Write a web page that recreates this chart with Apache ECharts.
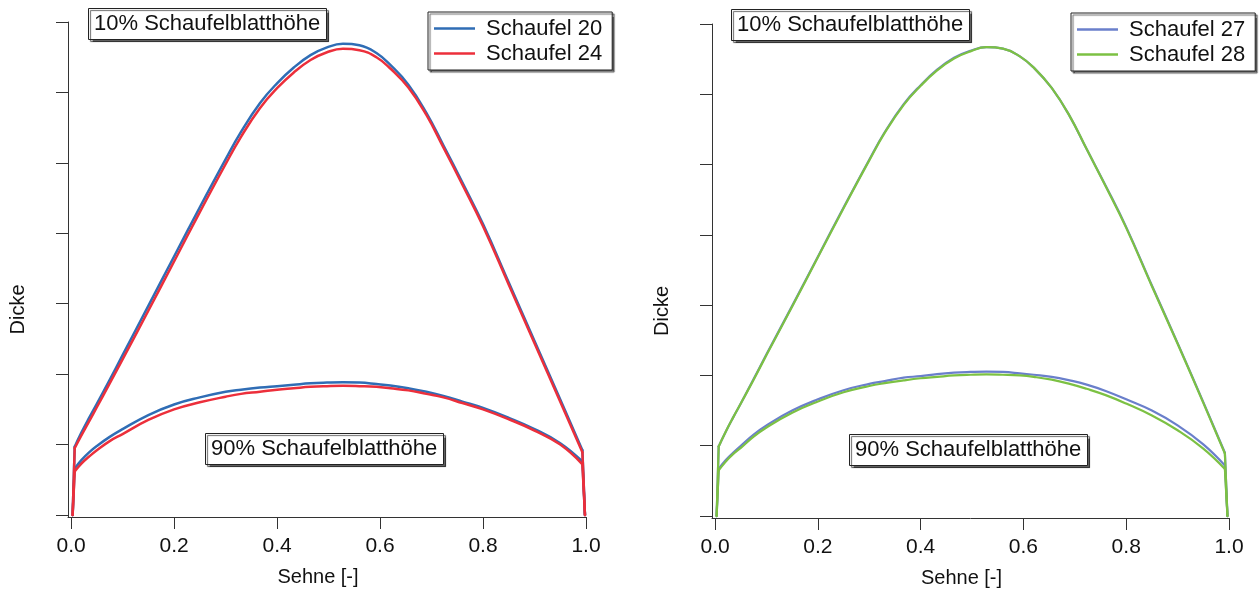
<!DOCTYPE html>
<html>
<head>
<meta charset="utf-8">
<title>Dickenverteilung</title>
<script src="https://cdn.jsdelivr.net/npm/echarts@6/dist/echarts.min.js"></script>
<style>
  html, body { margin: 0; padding: 0; background: #fff; }
  #chart { width: 1260px; height: 594px; }
</style>
</head>
<body>
<div id="chart"></div>
<script>
// Chord stations (normalised chord length) for the two panels
const leftChord  = [0.003, 0.007, 0.02, 0.035, 0.05, 0.075, 0.10, 0.15, 0.20, 0.25, 0.30, 0.33, 0.367, 0.40, 0.432, 0.465, 0.497, 0.528, 0.56, 0.593, 0.62, 0.655, 0.69, 0.723, 0.76, 0.80, 0.85, 0.90, 0.95, 0.993, 0.998];
const rightChord = [0.003, 0.007, 0.02, 0.035, 0.05, 0.075, 0.10, 0.15, 0.20, 0.25, 0.30, 0.33, 0.367, 0.40, 0.432, 0.465, 0.497, 0.528, 0.56, 0.593, 0.62, 0.655, 0.69, 0.723, 0.76, 0.80, 0.85, 0.90, 0.95, 0.992, 0.997];

// Thickness at 10 % blade height
const s20_10 = [0, 0.97, 1.17, 1.38, 1.58, 1.92, 2.27, 2.97, 3.67, 4.37, 5.05, 5.44, 5.85, 6.13, 6.35, 6.53, 6.64, 6.69, 6.67, 6.56, 6.39, 6.11, 5.71, 5.25, 4.72, 4.13, 3.30, 2.47, 1.64, 0.92, 0];
const s24_10 = [0, 0.95, 1.13, 1.33, 1.53, 1.87, 2.21, 2.90, 3.60, 4.30, 4.98, 5.37, 5.78, 6.06, 6.28, 6.46, 6.57, 6.62, 6.60, 6.50, 6.34, 6.07, 5.68, 5.22, 4.69, 4.10, 3.27, 2.44, 1.61, 0.89, 0];
const s27_10 = [0, 0.99, 1.19, 1.40, 1.60, 1.95, 2.30, 2.99, 3.69, 4.39, 5.07, 5.46, 5.86, 6.13, 6.35, 6.52, 6.62, 6.67, 6.65, 6.54, 6.38, 6.09, 5.69, 5.22, 4.70, 4.11, 3.28, 2.46, 1.62, 0.90, 0];
const s28_10 = [0, 0.99, 1.19, 1.40, 1.60, 1.94, 2.29, 2.98, 3.68, 4.38, 5.06, 5.45, 5.85, 6.12, 6.34, 6.51, 6.61, 6.67, 6.65, 6.54, 6.38, 6.09, 5.69, 5.22, 4.69, 4.10, 3.27, 2.45, 1.61, 0.89, 0];

// Thickness at 90 % blade height
const s20_90 = [0, 0.66, 0.78, 0.89, 0.98, 1.11, 1.22, 1.42, 1.57, 1.67, 1.75, 1.78, 1.81, 1.83, 1.85, 1.87, 1.88, 1.885, 1.88, 1.86, 1.84, 1.80, 1.75, 1.69, 1.61, 1.52, 1.38, 1.22, 1.02, 0.76, 0];
const s24_90 = [0, 0.62, 0.73, 0.83, 0.92, 1.05, 1.15, 1.35, 1.50, 1.60, 1.68, 1.72, 1.75, 1.78, 1.80, 1.82, 1.83, 1.835, 1.83, 1.82, 1.80, 1.77, 1.72, 1.67, 1.59, 1.50, 1.36, 1.20, 1.00, 0.72, 0];
const s27_90 = [0, 0.67, 0.79, 0.90, 1.00, 1.16, 1.29, 1.50, 1.66, 1.79, 1.88, 1.92, 1.97, 1.99, 2.02, 2.04, 2.05, 2.055, 2.05, 2.03, 2.01, 1.98, 1.93, 1.87, 1.78, 1.66, 1.50, 1.29, 1.02, 0.72, 0];
const s28_90 = [0, 0.65, 0.77, 0.88, 0.97, 1.13, 1.26, 1.47, 1.63, 1.76, 1.85, 1.89, 1.93, 1.96, 1.98, 2.00, 2.01, 2.015, 2.01, 2.00, 1.98, 1.94, 1.88, 1.81, 1.72, 1.60, 1.43, 1.22, 0.96, 0.67, 0];

// Axis ticks
const xTicks = [0, 0.2, 0.4, 0.6, 0.8, 1.0];
const yTicks = [0, 1, 2, 3, 4, 5, 6, 7];

const FONT = '"Liberation Sans", Arial, sans-serif';
const AXIS_COLOR = '#333';
const colors = { s20: '#2f6db5', s24: '#ec2f3b', s27: '#6a7fcb', s28: '#7cc143' };

const pairs = (xs, ys) => xs.map((x, i) => [x, ys[i]]);

function xAxisFor(gridIndex) {
  return {
    type: 'value', gridIndex, min: -0.006, max: 1.0,
    name: 'Sehne [-]', nameLocation: 'middle', nameGap: 50,
    nameTextStyle: { fontFamily: FONT, fontSize: 20, color: '#111', padding: [0, 18, 0, 0] },
    axisLine: { show: true, onZero: false, lineStyle: { color: AXIS_COLOR, width: 1 } },
    axisTick: { show: true, inside: false, length: 12, customValues: xTicks, lineStyle: { color: AXIS_COLOR } },
    axisLabel: { show: true, margin: 19, customValues: xTicks, fontFamily: FONT, fontSize: 21, color: '#111',
                 formatter: v => v.toFixed(1) },
    splitLine: { show: false }
  };
}

function yAxisFor(gridIndex) {
  return {
    type: 'value', gridIndex, min: -0.028, max: 7,
    name: 'Dicke', nameLocation: 'middle', nameGap: 40, nameRotate: 90,
    nameTextStyle: { fontFamily: FONT, fontSize: 20, color: '#111', padding: [0, 80, 0, 0] },
    axisLine: { show: true, onZero: false, lineStyle: { color: AXIS_COLOR, width: 1 } },
    axisTick: { show: true, inside: false, length: 12, customValues: yTicks, lineStyle: { color: AXIS_COLOR } },
    axisLabel: { show: false },
    splitLine: { show: false }
  };
}

function boxTitle(text, left, top) {
  return {
    text, left, top,
    padding: [3, 6, 3, 6],
    backgroundColor: '#fff',
    borderColor: '#222', borderWidth: 1,
    shadowColor: 'rgba(0,0,0,0.6)', shadowBlur: 1, shadowOffsetX: 2, shadowOffsetY: 2,
    textStyle: { fontFamily: FONT, fontSize: 22, fontWeight: 'normal', color: '#111', lineHeight: 26 }
  };
}

function legendBox(names, left, top) {
  return {
    data: names, left, top, orient: 'vertical',
    padding: [5, 10, 5, 6], itemGap: 2, itemWidth: 41, itemHeight: 2.5, icon: 'rect',
    backgroundColor: '#fff', borderColor: '#222', borderWidth: 1,
    shadowColor: 'rgba(0,0,0,0.6)', shadowBlur: 1, shadowOffsetX: 2, shadowOffsetY: 2,
    selectedMode: false,
    textStyle: { fontFamily: FONT, fontSize: 22, color: '#111', lineHeight: 23, padding: [0, 0, 0, 6] }
  };
}

// One profile: smooth body between the edge kinks, straight edges at both ends
function profile(name, grid, xs, ys, color, width) {
  const base = {
    name, type: 'line', xAxisIndex: grid, yAxisIndex: grid,
    symbol: 'none', showSymbol: false,
    lineStyle: { color, width, cap: 'round', join: 'round' }, itemStyle: { color },
    silent: true
  };
  const pts = pairs(xs, ys);
  const n = pts.length;
  return [
    Object.assign({}, base, { data: pts.slice(0, 2), smooth: false }),
    Object.assign({}, base, { data: pts.slice(1, n - 1), smooth: 0.45 }),
    Object.assign({}, base, { data: pts.slice(n - 2), smooth: false })
  ];
}

const chart = echarts.init(document.getElementById('chart'), null, { renderer: 'canvas' });
chart.setOption({
  animation: false,
  backgroundColor: '#fff',
  title: [
    boxTitle('10% Schaufelblatthöhe', 88, 8),
    boxTitle('90% Schaufelblatthöhe', 205, 433),
    boxTitle('10% Schaufelblatthöhe', 731, 9),
    boxTitle('90% Schaufelblatthöhe', 849, 434)
  ],
  legend: [
    legendBox(['Schaufel 20', 'Schaufel 24'], 428, 12),
    legendBox(['Schaufel 27', 'Schaufel 28'], 1071, 13)
  ],
  grid: [
    { left: 68, right: 674, top: 22, bottom: 77, containLabel: false },
    { left: 712, right: 31, top: 24, bottom: 76, containLabel: false }
  ],
  xAxis: [xAxisFor(0), xAxisFor(1)],
  yAxis: [yAxisFor(0), yAxisFor(1)],
  series: [].concat(
    profile('Schaufel 20', 0, leftChord, s20_10, colors.s20, 2.5),
    profile('Schaufel 20', 0, leftChord, s20_90, colors.s20, 2.5),
    profile('Schaufel 24', 0, leftChord, s24_10, colors.s24, 2.5),
    profile('Schaufel 24', 0, leftChord, s24_90, colors.s24, 2.5),
    profile('Schaufel 27', 1, rightChord, s27_10, colors.s27, 2.2),
    profile('Schaufel 27', 1, rightChord, s27_90, colors.s27, 2.2),
    profile('Schaufel 28', 1, rightChord, s28_10, colors.s28, 2.2),
    profile('Schaufel 28', 1, rightChord, s28_90, colors.s28, 2.2)
  )
});
</script>
</body>
</html>
